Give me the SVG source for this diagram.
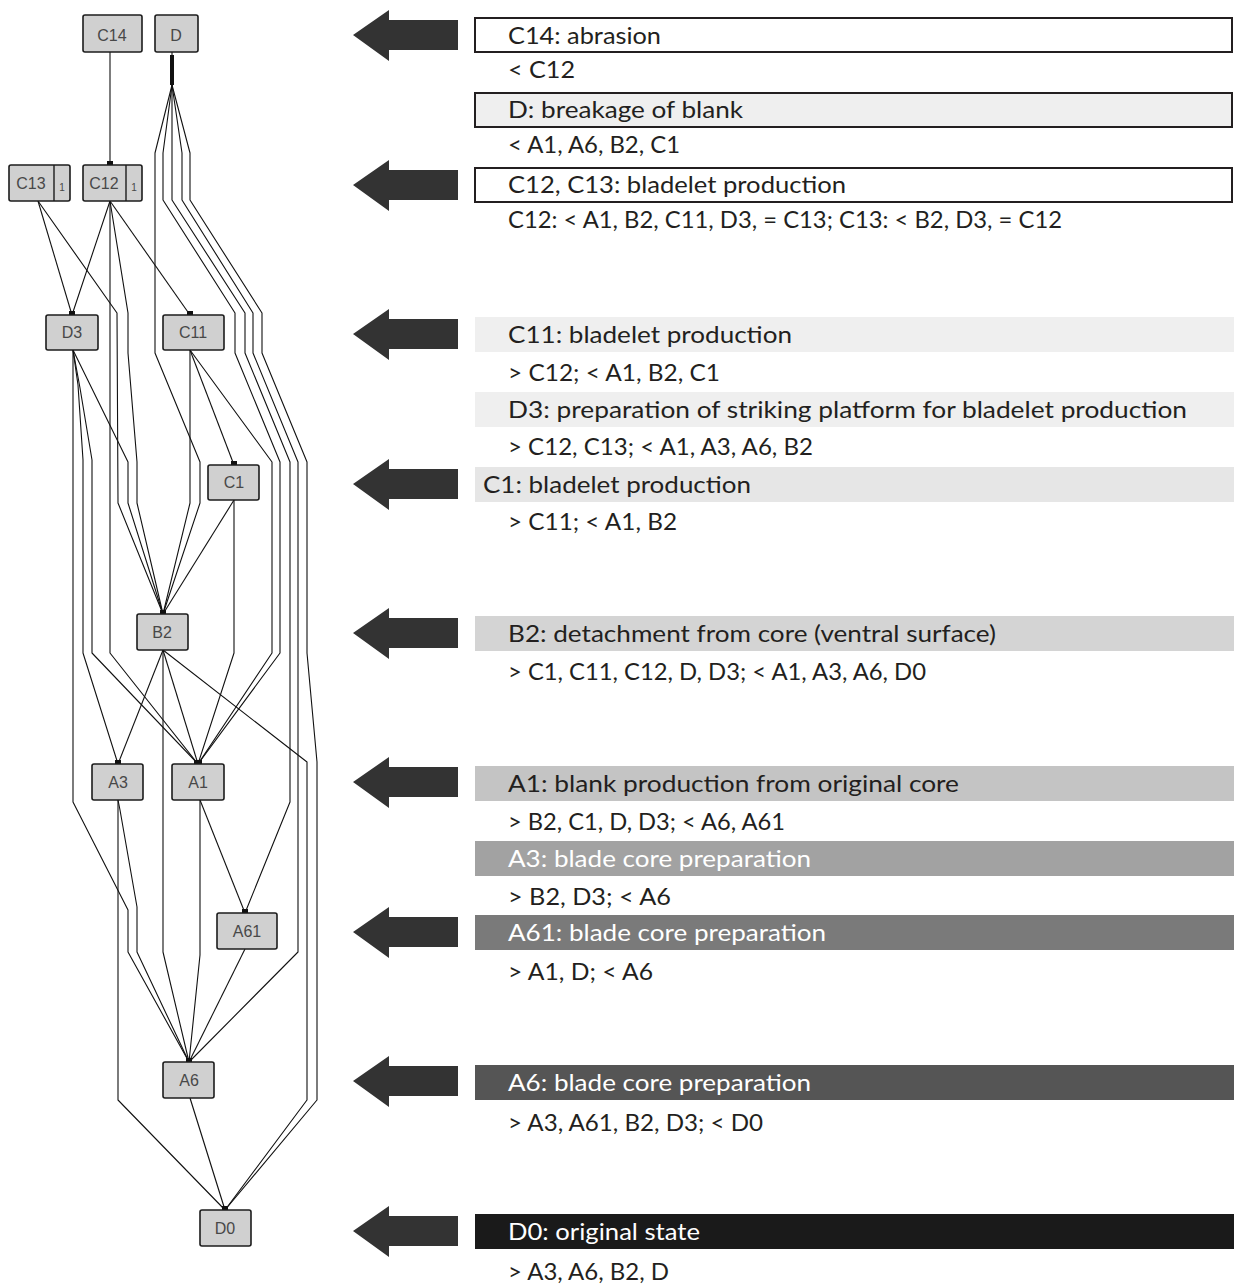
<svg xmlns="http://www.w3.org/2000/svg" width="1234" height="1286" viewBox="0 0 1234 1286">
<style>
.nb{fill:#d0d0d0;stroke:#1c1c1c;stroke-width:1.6}
.nl{font-family:"Liberation Sans",Arial,sans-serif;font-size:16px;fill:#484848;text-anchor:middle}
.ns{font-family:"Liberation Sans",Arial,sans-serif;font-size:10px;fill:#484848;text-anchor:middle}
.e{fill:none;stroke:#111;stroke-width:1.1;stroke-linejoin:round}
.pm{fill:#111}
.t{font-family:Lato,"Liberation Sans",sans-serif;font-size:23px;fill:#231f20}
.tw{font-family:Lato,"Liberation Sans",sans-serif;font-size:23px;fill:#ffffff}
.bx{fill:#ffffff;stroke:#231f20;stroke-width:2}
.ar{fill:#333333}
</style>
<defs>
<polygon id="arrow" points="353,0 389,-25 389,-15 458,-15 458,15 389,15 389,26"/>
</defs>
<rect width="1234" height="1286" fill="#ffffff"/>

<g id="connectors">
<polyline class="e" points="110,52 110,165"/>
<polyline class="e" points="172,52 172,85 155,153 155,353 200,462 200,503 163,614"/>
<polyline class="e" points="172,85 163,153 163,200 235,313 235,353 280,462 280,653 198,764"/>
<polyline class="e" points="172,85 172,153 172,200 245,313 245,353 290,462 290,802 245,913"/>
<polyline class="e" points="172,85 182,153 182,200 253,313 253,353 298,462 298,952 189,1062"/>
<polyline class="e" points="172,85 190,153 190,200 262,313 262,353 307,462 307,653 317,762 317,1100 225,1210"/>
<polyline class="e" points="110,201 72,315"/>
<polyline class="e" points="110,201 110,653 198,764"/>
<polyline class="e" points="110,201 128,313 128,353 137,462 137,503 163,614"/>
<polyline class="e" points="110,201 190,315"/>
<polyline class="e" points="38,201 72,315"/>
<polyline class="e" points="38,201 117,313 118,503 163,614"/>
<polyline class="e" points="73,350 73,802 128,910 128,952 189,1062"/>
<polyline class="e" points="73,350 78,385 83,460 83,653 118,764"/>
<polyline class="e" points="73,350 80,388 92,460 92,653 198,764"/>
<polyline class="e" points="73,350 128,462 128,503 163,614"/>
<polyline class="e" points="190,350 190,503 163,614"/>
<polyline class="e" points="190,350 234,465"/>
<polyline class="e" points="190,350 272,462 272,653 198,764"/>
<polyline class="e" points="234,500 163,614"/>
<polyline class="e" points="234,500 234,653 198,764"/>
<polyline class="e" points="163,650 118,764"/>
<polyline class="e" points="163,650 198,764"/>
<polyline class="e" points="163,650 163,952 189,1062"/>
<polyline class="e" points="163,650 307,762 307,1100 225,1210"/>
<polyline class="e" points="118,800 118,1100 225,1210"/>
<polyline class="e" points="118,800 120,810 137,907 137,952 189,1062"/>
<polyline class="e" points="200,800 200,955 189,1062"/>
<polyline class="e" points="200,800 245,913"/>
<polyline class="e" points="245,949 189,1062"/>
<polyline class="e" points="190,1098 225,1210"/>
<rect class="pm" x="107" y="161" width="6" height="4"/>
<rect class="pm" x="69" y="311" width="6" height="4"/>
<rect class="pm" x="187" y="311" width="6" height="4"/>
<rect class="pm" x="231" y="461" width="6" height="4"/>
<rect class="pm" x="160" y="610" width="6" height="4"/>
<rect class="pm" x="115" y="760" width="6" height="4"/>
<rect class="pm" x="194" y="760" width="8" height="4"/>
<rect class="pm" x="242" y="909" width="6" height="4"/>
<rect class="pm" x="186" y="1058" width="6" height="4"/>
<rect class="pm" x="222" y="1206" width="6" height="4"/>
<rect class="pm" x="170" y="55" width="4" height="30"/>
</g>

<g id="node-C14"><rect class="nb" x="83" y="15" width="59" height="37" rx="2"/><text class="nl" x="112" y="41">C14</text></g>
<g id="node-D"><rect class="nb" x="155" y="15" width="43" height="37" rx="2"/><text class="nl" x="176" y="41">D</text></g>
<g id="node-C13"><rect class="nb" x="9" y="165" width="61" height="36" rx="2"/><line x1="54" y1="165" x2="54" y2="201" stroke="#1c1c1c" stroke-width="1.4"/><text class="nl" x="31" y="189">C13</text><text class="ns" x="62" y="191">1</text></g>
<g id="node-C12"><rect class="nb" x="83" y="165" width="59" height="36" rx="2"/><line x1="126" y1="165" x2="126" y2="201" stroke="#1c1c1c" stroke-width="1.4"/><text class="nl" x="104" y="189">C12</text><text class="ns" x="134" y="191">1</text></g>
<g id="node-D3"><rect class="nb" x="46" y="315" width="52" height="35" rx="2"/><text class="nl" x="72" y="338">D3</text></g>
<g id="node-C11"><rect class="nb" x="163" y="315" width="61" height="35" rx="2"/><text class="nl" x="193" y="338">C11</text></g>
<g id="node-C1"><rect class="nb" x="208" y="465" width="51" height="35" rx="2"/><text class="nl" x="234" y="488">C1</text></g>
<g id="node-B2"><rect class="nb" x="137" y="614" width="51" height="36" rx="2"/><text class="nl" x="162" y="638">B2</text></g>
<g id="node-A3"><rect class="nb" x="92" y="764" width="51" height="36" rx="2"/><text class="nl" x="118" y="788">A3</text></g>
<g id="node-A1"><rect class="nb" x="172" y="764" width="52" height="36" rx="2"/><text class="nl" x="198" y="788">A1</text></g>
<g id="node-A61"><rect class="nb" x="217" y="913" width="60" height="36" rx="2"/><text class="nl" x="247" y="937">A61</text></g>
<g id="node-A6"><rect class="nb" x="163" y="1062" width="51" height="36" rx="2"/><text class="nl" x="189" y="1086">A6</text></g>
<g id="node-D0"><rect class="nb" x="200" y="1210" width="51" height="36" rx="2"/><text class="nl" x="225" y="1234">D0</text></g>

<g id="arrows">
<use href="#arrow" class="ar" transform="translate(0,35)"/>
<use href="#arrow" class="ar" transform="translate(0,185)"/>
<use href="#arrow" class="ar" transform="translate(0,334)"/>
<use href="#arrow" class="ar" transform="translate(0,484)"/>
<use href="#arrow" class="ar" transform="translate(0,633)"/>
<use href="#arrow" class="ar" transform="translate(0,782)"/>
<use href="#arrow" class="ar" transform="translate(0,932)"/>
<use href="#arrow" class="ar" transform="translate(0,1081)"/>
<use href="#arrow" class="ar" transform="translate(0,1231)"/>
</g>

<g id="legend">
<rect class="bx" x="475" y="18" width="757" height="34"/>
<text class="t" x="508" y="44" textLength="153" lengthAdjust="spacingAndGlyphs">C14: abrasion</text>
<text class="t" x="508" y="78" textLength="67" lengthAdjust="spacingAndGlyphs">&lt; C12</text>
<rect class="bx" x="475" y="93" width="757" height="34" style="fill:#efefef"/>
<text class="t" x="508" y="118" textLength="235" lengthAdjust="spacingAndGlyphs">D: breakage of blank</text>
<text class="t" x="508" y="153" textLength="172" lengthAdjust="spacingAndGlyphs">&lt; A1, A6, B2, C1</text>
<rect class="bx" x="475" y="168" width="757" height="34"/>
<text class="t" x="508" y="193" textLength="338" lengthAdjust="spacingAndGlyphs">C12, C13: bladelet production</text>
<text class="t" x="508" y="228" textLength="554" lengthAdjust="spacingAndGlyphs">C12: &lt; A1, B2, C11, D3, = C13; C13: &lt; B2, D3, = C12</text>

<rect x="475" y="317" width="759" height="35" fill="#efefef"/>
<text class="t" x="508" y="343" textLength="284" lengthAdjust="spacingAndGlyphs">C11: bladelet production</text>
<text class="t" x="508" y="381" textLength="212" lengthAdjust="spacingAndGlyphs">&gt; C12;  &lt; A1, B2, C1</text>
<rect x="475" y="392" width="759" height="35" fill="#efefef"/>
<text class="t" x="508" y="418" textLength="679" lengthAdjust="spacingAndGlyphs">D3: preparation of striking platform for bladelet production</text>
<text class="t" x="508" y="455" textLength="305" lengthAdjust="spacingAndGlyphs">&gt; C12, C13; &lt; A1, A3, A6, B2</text>
<rect x="475" y="467" width="759" height="35" fill="#e6e6e6"/>
<text class="t" x="483" y="493" textLength="268" lengthAdjust="spacingAndGlyphs">C1: bladelet production</text>
<text class="t" x="508" y="530" textLength="169" lengthAdjust="spacingAndGlyphs">&gt; C11; &lt; A1, B2</text>

<rect x="475" y="616" width="759" height="35" fill="#d4d4d4"/>
<text class="t" x="508" y="642" textLength="488" lengthAdjust="spacingAndGlyphs">B2: detachment from core (ventral surface)</text>
<text class="t" x="508" y="680" textLength="418" lengthAdjust="spacingAndGlyphs">&gt; C1, C11, C12, D, D3; &lt; A1, A3, A6, D0</text>

<rect x="475" y="766" width="759" height="35" fill="#c4c4c4"/>
<text class="t" x="508" y="792" textLength="451" lengthAdjust="spacingAndGlyphs">A1: blank production from original core</text>
<text class="t" x="508" y="830" textLength="277" lengthAdjust="spacingAndGlyphs">&gt; B2, C1, D, D3; &lt; A6, A61</text>
<rect x="475" y="841" width="759" height="35" fill="#a2a2a2"/>
<text class="tw" x="508" y="867" textLength="303" lengthAdjust="spacingAndGlyphs">A3: blade core preparation</text>
<text class="t" x="508" y="905" textLength="163" lengthAdjust="spacingAndGlyphs">&gt; B2, D3;  &lt; A6</text>

<rect x="475" y="915" width="759" height="35" fill="#7a7a7a"/>
<text class="tw" x="508" y="941" textLength="318" lengthAdjust="spacingAndGlyphs">A61: blade core preparation</text>
<text class="t" x="508" y="980" textLength="145" lengthAdjust="spacingAndGlyphs">&gt; A1, D; &lt; A6</text>

<rect x="475" y="1065" width="759" height="35" fill="#555555"/>
<text class="tw" x="508" y="1091" textLength="303" lengthAdjust="spacingAndGlyphs">A6: blade core preparation</text>
<text class="t" x="508" y="1131" textLength="255" lengthAdjust="spacingAndGlyphs">&gt; A3, A61, B2, D3; &lt; D0</text>

<rect x="475" y="1214" width="759" height="35" fill="#1a1a1a"/>
<text class="tw" x="508" y="1240" textLength="192" lengthAdjust="spacingAndGlyphs">D0: original state</text>
<text class="t" x="508" y="1280" textLength="161" lengthAdjust="spacingAndGlyphs">&gt; A3, A6, B2, D</text>
</g>
</svg>
